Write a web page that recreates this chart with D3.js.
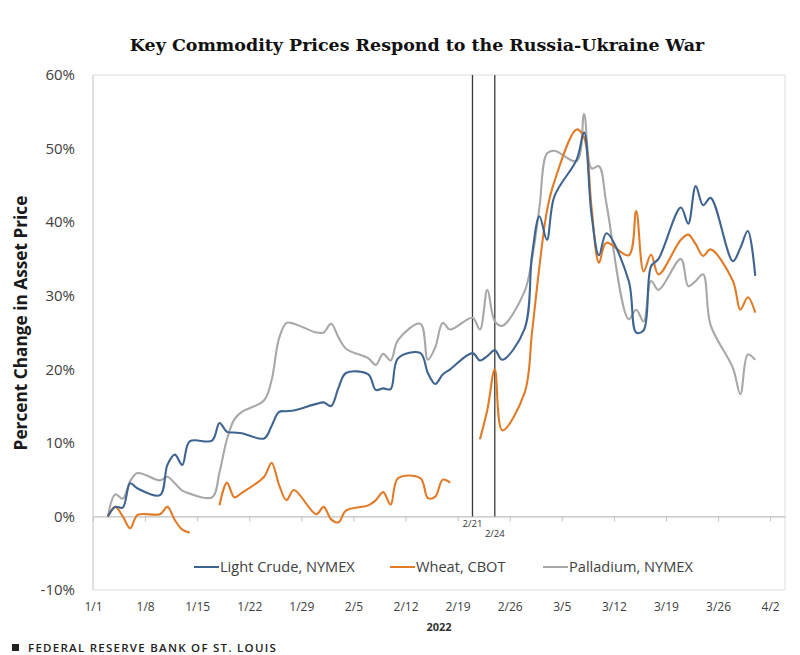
<!DOCTYPE html>
<html><head><meta charset="utf-8">
<script src="https://cdn.jsdelivr.net/npm/d3@7"></script>
<style>
html,body{margin:0;padding:0;background:#fff;}
svg{display:block;}
</style></head>
<body>
<svg id="chart" width="800" height="655"></svg>
<script>
const dates = [
 "2022-01-03","2022-01-04","2022-01-05","2022-01-06","2022-01-07",
 "2022-01-10","2022-01-11","2022-01-12","2022-01-13","2022-01-14",
 "2022-01-17","2022-01-18","2022-01-19","2022-01-20","2022-01-21",
 "2022-01-24","2022-01-25","2022-01-26","2022-01-27","2022-01-28",
 "2022-01-31","2022-02-01","2022-02-02","2022-02-03","2022-02-04",
 "2022-02-07","2022-02-08","2022-02-09","2022-02-10","2022-02-11",
 "2022-02-14","2022-02-15","2022-02-16","2022-02-17","2022-02-18",
 "2022-02-21","2022-02-22","2022-02-23","2022-02-24","2022-02-25",
 "2022-02-28","2022-03-01","2022-03-02","2022-03-03","2022-03-04",
 "2022-03-07","2022-03-08","2022-03-09","2022-03-10","2022-03-11",
 "2022-03-14","2022-03-15","2022-03-16","2022-03-17","2022-03-18",
 "2022-03-21","2022-03-22","2022-03-23","2022-03-24","2022-03-25",
 "2022-03-28","2022-03-29","2022-03-30","2022-03-31"
];
const crude = [
 0,1.3,1.2,4.5,3.8,
 2.9,7.0,8.4,7.0,10.2,
 10.3,12.7,11.5,11.4,11.3,
 10.6,12.3,14.2,14.3,14.4,
 15.3,15.5,15.0,17.5,19.5,
 19.3,17.2,17.4,17.3,21.5,
 22.2,19.5,18.0,19.3,20.0,
 22.2,21.2,21.8,22.6,21.3,
 25.5,35.5,40.8,37.6,43.5,
 48.5,52.2,41.0,35.5,38.5,
 32.0,25.0,25.3,34.0,35.0,
 42.0,39.8,44.9,42.3,43.3,
 34.7,36.5,38.8,32.7
];
const wheat = [
 0,1.3,0.0,-1.6,0.2,
 0.3,1.3,-0.5,-1.8,-2.2,
 null,1.5,4.6,2.6,3.2,
 5.4,7.3,4.3,2.2,3.6,
 0.3,1.3,-0.4,-0.8,0.8,
 1.5,2.2,3.3,1.6,5.2,
 5.2,2.5,2.7,5.0,4.6,
 null,10.5,14.5,20.0,11.7,
 16.8,25.0,34.0,41.5,45.5,
 52.6,51.5,42.0,34.5,37.2,
 35.5,41.5,33.3,35.6,32.9,
 37.6,38.3,37.0,35.4,36.3,
 32.0,28.1,29.8,27.7
];
const palladium = [
 0,3.0,2.4,4.8,5.9,
 4.9,5.4,4.5,3.5,3.1,
 2.6,6.0,10.5,13.2,14.2,
 15.8,18.5,24.2,26.3,26.2,
 25.0,25.0,26.2,24.3,22.8,
 21.5,20.6,22.1,21.2,24.0,
 26.2,21.3,23.0,26.3,25.4,
 27.0,25.4,30.8,26.5,25.9,
 30.6,35.0,42.0,49.3,49.7,
 48.3,54.7,47.3,47.6,42.5,
 26.8,28.1,26.5,32.0,30.8,
 35.0,31.3,32.0,32.9,26.0,
 20.2,16.6,22.0,21.3
];
const seriesNames = ["Light Crude, NYMEX","Wheat, CBOT","Palladium, NYMEX"];
const seriesColors = ["#3f6490","#e27b27","#a8a8a8"];
const xTickDates = ["2022-01-01","2022-01-08","2022-01-15","2022-01-22","2022-01-29","2022-02-05","2022-02-12","2022-02-19","2022-02-26","2022-03-05","2022-03-12","2022-03-19","2022-03-26","2022-04-02"];
const xTickLabels = ["1/1","1/8","1/15","1/22","1/29","2/5","2/12","2/19","2/26","3/5","3/12","3/19","3/26","4/2"];
const yTicks = [-10,0,10,20,30,40,50,60];
const eventDates = ["2022-02-21","2022-02-24"];
const eventLabels = ["2/21","2/24"];

const parse = d3.timeParse("%Y-%m-%d");
const svg = d3.select("#chart");
const L = 93, R = 785, T = 75, B = 590;
const x = d3.scaleTime().domain([parse("2022-01-01"), parse("2022-04-04")]).range([L, R]);
const y = d3.scaleLinear().domain([-10, 60]).range([B, T]);

// frame
svg.append("rect").attr("x", L).attr("y", T).attr("width", R - L).attr("height", B - T)
  .attr("fill", "none").attr("stroke", "#e3e3e3").attr("stroke-width", 1.2);
svg.append("line").attr("x1", L).attr("x2", L).attr("y1", T).attr("y2", B)
  .attr("stroke", "#d9d9d9").attr("stroke-width", 1.2);

// y axis labels
const yAxis = d3.axisLeft(y).tickValues(yTicks).tickFormat(d => d + "%").tickSize(0).tickPadding(18);
const gy = svg.append("g").attr("transform", `translate(${L},0)`).call(yAxis);
gy.select(".domain").remove();
gy.selectAll("text").attr("font-family", "Open Sans").attr("font-size", 15).attr("fill", "#404040");

// zero axis with ticks
const zeroY = y(0);
const xAxis = d3.axisBottom(x).tickValues(xTickDates.map(parse)).tickFormat("").tickSize(5).tickSizeOuter(0);
const gx = svg.append("g").attr("transform", `translate(0,${zeroY})`).call(xAxis);
gx.select(".domain").attr("stroke", "#c0c0c0").attr("stroke-width", 1.2);
gx.selectAll(".tick line").attr("stroke", "#c0c0c0");

// x labels at bottom
const gxl = svg.append("g").attr("transform", `translate(0,${B})`)
  .call(d3.axisBottom(x).tickValues(xTickDates.map(parse)).tickFormat((d, i) => xTickLabels[i]).tickSize(0).tickPadding(12));
gxl.select(".domain").remove();
gxl.selectAll("text").attr("font-family", "Open Sans").attr("font-size", 12).attr("fill", "#404040");

// event lines
eventDates.forEach((ed, i) => {
  const ex = x(parse(ed));
  svg.append("line").attr("x1", ex).attr("x2", ex).attr("y1", T).attr("y2", zeroY)
    .attr("stroke", "#3a3a3a").attr("stroke-width", 1.3);
  svg.append("text").attr("x", ex).attr("y", zeroY + 11 + i * 10)
    .attr("text-anchor", "middle").attr("font-family", "Open Sans").attr("font-size", 9.5)
    .attr("fill", "#333").text(eventLabels[i]);
});

// lines
const allSeries = [crude, wheat, palladium];
const line = d3.line()
  .defined(d => d.v !== null)
  .x(d => x(d.date)).y(d => y(d.v))
  .curve(d3.curveCatmullRom.alpha(0.5));
const drawOrder = [2, 1, 0];
drawOrder.forEach(si => {
  const data = dates.map((ds, i) => ({date: parse(ds), v: allSeries[si][i]}));
  svg.append("path").datum(data).attr("d", line)
    .attr("fill", "none").attr("stroke", seriesColors[si]).attr("stroke-width", 2.1)
    .attr("stroke-linejoin", "round");
});

// legend
const legendX = [194, 390, 543];
const legendY = 567;
seriesNames.forEach((n, i) => {
  svg.append("line").attr("x1", legendX[i]).attr("x2", legendX[i] + 25)
    .attr("y1", legendY).attr("y2", legendY).attr("stroke", seriesColors[i]).attr("stroke-width", 2);
  svg.append("text").attr("x", legendX[i] + 26).attr("y", legendY + 5)
    .attr("font-family", "Open Sans").attr("font-size", 14.6).attr("fill", "#404040").text(n);
});

// title
const title = svg.append("text").attr("x", 417).attr("y", 51).attr("text-anchor", "middle")
  .attr("font-family", "DejaVu Serif").attr("font-weight", "bold").attr("font-size", 16)
  .attr("fill", "#111").text("Key Commodity Prices Respond to the Russia-Ukraine War");
const tw = title.node().getComputedTextLength();
title.attr("font-size", 16 * 575 / tw);

// y title
const yt = svg.append("text").attr("transform", "translate(27,323) rotate(-90)").attr("text-anchor", "middle")
  .attr("font-family", "Open Sans").attr("font-weight", "bold").attr("font-size", 15)
  .attr("fill", "#1a1a1a").text("Percent Change in Asset Price");
const yw = yt.node().getComputedTextLength();
yt.attr("font-size", 15 * 255 / yw);

// year
svg.append("text").attr("x", 439).attr("y", 631).attr("text-anchor", "middle")
  .attr("font-family", "Open Sans").attr("font-weight", "bold").attr("font-size", 11)
  .attr("fill", "#333").text("2022");

// footer
svg.append("rect").attr("x", 12).attr("y", 644).attr("width", 7).attr("height", 7).attr("fill", "#222");
svg.append("text").attr("x", 28).attr("y", 652).attr("font-family", "Open Sans").attr("font-size", 11.5)
  .attr("font-weight", 600)
  .attr("letter-spacing", 1.2).attr("fill", "#222").attr("textLength", 249).attr("lengthAdjust", "spacing")
  .text("FEDERAL RESERVE BANK OF ST. LOUIS");
</script>
</body></html>
